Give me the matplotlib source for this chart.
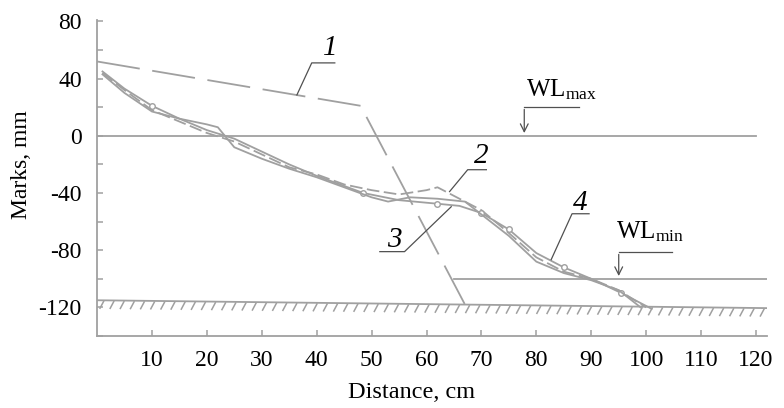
import numpy as np
import matplotlib
matplotlib.use("Agg")
import matplotlib.pyplot as plt

plt.rcParams['font.family'] = ['Liberation Serif', 'DejaVu Serif']
plt.rcParams['mathtext.fontset'] = 'custom'
plt.rcParams['mathtext.rm'] = 'Liberation Serif'
plt.rcParams['mathtext.it'] = 'Liberation Serif:italic'

# ---- data ----
x_ticks = [10, 20, 30, 40, 50, 60, 70, 80, 90, 100, 110, 120]
y_ticks = [-120, -80, -40, 0, 40, 80]
y_minor = [-140, -100, -60, -20, 20, 60]

line1_x = [0, 48, 67]
line1_y = [52, 21, -118]

c2_x = [1, 5, 10, 15, 20, 25, 30, 35, 40, 45, 50, 55, 60, 62, 65, 70, 75, 80, 85, 90, 95, 100]
c2_y = [44, 32, 18, 10, 2, -4, -13, -22, -27, -34, -38, -41, -38, -36, -42, -52, -68, -85, -95, -100, -108, -120]

c3_x = [1, 5, 10, 15, 20, 25, 30, 35, 40, 48.5, 55, 62, 66, 70, 75, 80, 85, 90, 95.5, 101]
c3_y = [45, 33, 21, 12, 4, -2, -11, -20, -28, -40, -45, -47.5, -49, -54, -65.5, -82, -92, -100, -110, -121]
c3_marks = [2, 9, 11, 13, 14, 16, 18]

c4_x = [1, 5, 10, 15, 20, 22, 25, 30, 35, 40, 45, 50, 53, 57, 62, 67, 70, 75, 80, 85, 90, 95, 99]
c4_y = [43, 30, 17, 12, 8, 6, -8, -16, -23, -29, -36, -43, -46, -43, -44, -46, -55, -70, -88, -96, -101, -108, -120]

wlmax_x = [0, 120]
wlmax_y = [0, 0]
wlmin_x = [65, 122]
wlmin_y = [-100, -100]

bed_x = [0, 122]
bed_y = [-115, -120.5]

# ---- figure ----
fig = plt.figure(figsize=(7.84, 4.08), dpi=100)
ax = fig.add_axes([97/784, 1-336/408, 670/784, 316/408])
ax.set_xlim(0, 122)
ax.set_ylim(-140, 81)

gray = '#a0a0a0'
lead = '#505050'

ax.plot(line1_x, line1_y, color=gray, lw=1.3, dashes=(24, 7))
ax.plot(c2_x, c2_y, color=gray, lw=1.3, dashes=(7, 2.5))
ax.plot(c3_x, c3_y, color=gray, lw=1.3, marker='o', markersize=4,
        markerfacecolor='white', markeredgecolor=gray, markevery=c3_marks)
ax.plot(c4_x, c4_y, color=gray, lw=1.3)
ax.plot(wlmax_x, wlmax_y, color=gray, lw=1.3)
ax.plot(wlmin_x, wlmin_y, color=gray, lw=1.3)

# bed with hatching
ax.plot(bed_x, bed_y, color=gray, lw=1.3)
hx = np.arange(1.2, 122, 1.85)
hy = np.interp(hx, bed_x, bed_y)
for xx, yy in zip(hx, hy):
    ax.plot([xx, xx - 0.65], [yy - 0.8, yy - 5.5], color=gray, lw=1.1)

# labels with leaders
def leader(pts):
    xs, ys = zip(*pts)
    ax.plot(xs, ys, color=lead, lw=0.9)

num_fs = 21
leader([(43.3, 51), (39.1, 51), (36.4, 28.6)])
ax.text(42.4, 56.5, '1', fontsize=num_fs, style='italic', ha='center', va='baseline')

leader([(70.9, -23.7), (67.5, -23.7), (64.2, -39)])
ax.text(70.0, -19.0, '2', fontsize=num_fs, style='italic', ha='center', va='baseline')

leader([(51.5, -81), (56, -81), (64.5, -49.6)])
ax.text(54.2, -77.5, '3', fontsize=num_fs, style='italic', ha='center', va='baseline')

leader([(89.6, -54.5), (86.5, -54.5), (82.7, -86.6)])
ax.text(88.0, -51.7, '4', fontsize=num_fs, style='italic', ha='center', va='baseline')

leader([(87.8, 20.4), (77.8, 20.4)])
ax.annotate('', xy=(77.8, 0), xytext=(77.8, 20.4),
            arrowprops=dict(arrowstyle='->', color=lead, lw=0.9, mutation_scale=14))
ax.text(78.2, 27.5, r'WL$_{\mathrm{max}}$', fontsize=18, ha='left', va='baseline')

leader([(104.7, -81), (95, -81)])
ax.annotate('', xy=(95, -100), xytext=(95, -81),
            arrowprops=dict(arrowstyle='->', color=lead, lw=0.9, mutation_scale=14))
ax.text(94.5, -71.5, r'WL$_{\mathrm{min}}$', fontsize=18, ha='left', va='baseline')

# axes styling
for s in ['top', 'right']:
    ax.spines[s].set_visible(False)
for s in ['left', 'bottom']:
    ax.spines[s].set_color(gray)
    ax.spines[s].set_linewidth(1.3)

ax.set_xticks(x_ticks)
ax.set_xticklabels([str(v) for v in x_ticks])
ax.set_yticks(y_ticks)
ax.set_yticklabels([str(v) for v in y_ticks])
ax.set_yticks(y_minor, minor=True)
ax.tick_params(axis='both', which='both', direction='in', color=gray, width=1.1,
               labelsize=17, labelcolor='black')
ax.tick_params(axis='both', which='major', length=4)
ax.tick_params(axis='both', which='minor', length=4)
ax.tick_params(axis='x', pad=10)
ax.tick_params(axis='y', pad=11)

ax.set_xlabel('Distance, cm', fontsize=17.5)
ax.set_ylabel('Marks, mm', fontsize=17)
ax.xaxis.set_label_coords((412-97)/670, -(393-336)/316)
ax.yaxis.set_label_coords(-(97-22)/670, (336-165)/316)
ax.xaxis.label.set_va('center')
ax.yaxis.label.set_va('center')

fig.savefig('out.png', dpi=100)
